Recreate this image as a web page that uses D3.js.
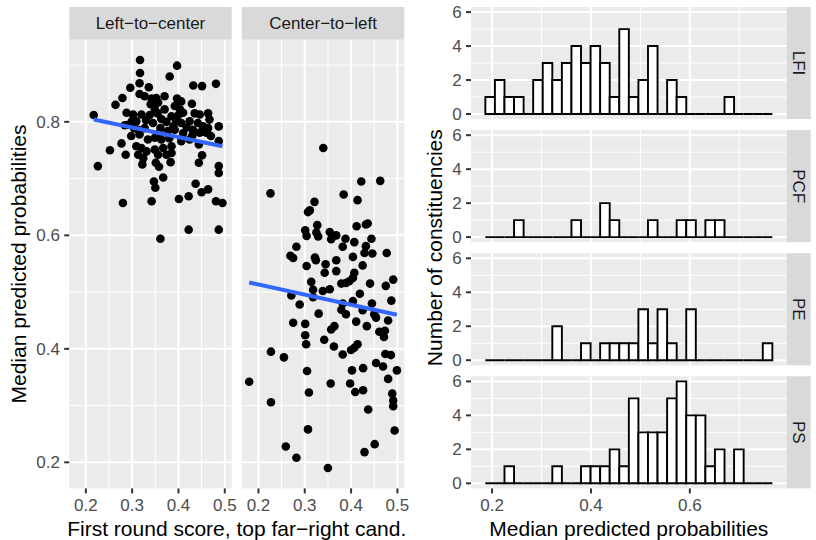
<!DOCTYPE html>
<html>
<head>
<meta charset="utf-8">
<script src="https://cdn.jsdelivr.net/npm/d3@7"></script>
<style>
  body { margin: 0; background: #fff; }
  text { font-family: "Liberation Sans", Arial, sans-serif; }
</style>
</head>
<body>
<svg id="chart" width="816" height="540"></svg>
<script>
// -------------------------------------------------------------------------
// Data

const facetNames = ['Left\u2212to\u2212center', 'Center\u2212to\u2212left'];

// [first round score, median predicted probability]
const leftToCenter = [
  [0.317, 0.909], [0.397, 0.899], [0.317, 0.886], [0.381, 0.880], [0.432, 0.864],
  [0.451, 0.863], [0.481, 0.867], [0.296, 0.860], [0.316, 0.868], [0.336, 0.861],
  [0.279, 0.842], [0.264, 0.830], [0.316, 0.849], [0.327, 0.845], [0.342, 0.841],
  [0.352, 0.842], [0.370, 0.845], [0.340, 0.831], [0.356, 0.834], [0.349, 0.822],
  [0.397, 0.841], [0.406, 0.836], [0.392, 0.828], [0.403, 0.822], [0.410, 0.816],
  [0.429, 0.832], [0.435, 0.815], [0.446, 0.813], [0.464, 0.815], [0.467, 0.804],
  [0.217, 0.812], [0.288, 0.816], [0.302, 0.813], [0.320, 0.813], [0.309, 0.801],
  [0.291, 0.795], [0.284, 0.794], [0.345, 0.798], [0.363, 0.805], [0.370, 0.822],
  [0.385, 0.810], [0.395, 0.801], [0.406, 0.798], [0.392, 0.786], [0.424, 0.801],
  [0.431, 0.786], [0.442, 0.798], [0.453, 0.792], [0.464, 0.789], [0.460, 0.781],
  [0.487, 0.792], [0.304, 0.789], [0.313, 0.786], [0.327, 0.789], [0.361, 0.789],
  [0.377, 0.784], [0.298, 0.775], [0.316, 0.778], [0.334, 0.769], [0.349, 0.772],
  [0.363, 0.769], [0.277, 0.762], [0.252, 0.750], [0.309, 0.757], [0.320, 0.754],
  [0.331, 0.748], [0.349, 0.751], [0.367, 0.754], [0.385, 0.757], [0.406, 0.766],
  [0.424, 0.769], [0.444, 0.760], [0.487, 0.766], [0.286, 0.742], [0.313, 0.742],
  [0.324, 0.736], [0.356, 0.742], [0.374, 0.742], [0.385, 0.745], [0.226, 0.722],
  [0.322, 0.725], [0.351, 0.728], [0.358, 0.721], [0.383, 0.729], [0.444, 0.728],
  [0.451, 0.741], [0.487, 0.722], [0.487, 0.710], [0.367, 0.702], [0.347, 0.695],
  [0.350, 0.684], [0.437, 0.691], [0.450, 0.676], [0.464, 0.681], [0.280, 0.657],
  [0.342, 0.660], [0.401, 0.664], [0.422, 0.669], [0.481, 0.660], [0.495, 0.657],
  [0.422, 0.610], [0.487, 0.610], [0.361, 0.594], [0.330, 0.803], [0.338, 0.812],
  [0.374, 0.800], [0.389, 0.792], [0.410, 0.780], [0.357, 0.779], [0.380, 0.771],
  [0.418, 0.790], [0.400, 0.812], [0.355, 0.815], [0.300, 0.802], [0.430, 0.776],
  [0.446, 0.781], [0.470, 0.775]
];

const centerToLeft = [
  [0.340, 0.754], [0.226, 0.674], [0.422, 0.695], [0.463, 0.696], [0.384, 0.672],
  [0.414, 0.662], [0.321, 0.659], [0.311, 0.644], [0.307, 0.641], [0.327, 0.618],
  [0.412, 0.616], [0.432, 0.619], [0.436, 0.621], [0.301, 0.609], [0.304, 0.599],
  [0.325, 0.605], [0.329, 0.598], [0.354, 0.606], [0.357, 0.593], [0.368, 0.600],
  [0.388, 0.594], [0.407, 0.588], [0.444, 0.594], [0.432, 0.581], [0.429, 0.569],
  [0.446, 0.568], [0.477, 0.569], [0.382, 0.580], [0.282, 0.580], [0.269, 0.564],
  [0.275, 0.560], [0.322, 0.561], [0.324, 0.556], [0.304, 0.546], [0.345, 0.549],
  [0.343, 0.534], [0.368, 0.556], [0.368, 0.537], [0.404, 0.562], [0.425, 0.547],
  [0.407, 0.534], [0.404, 0.525], [0.396, 0.519], [0.389, 0.516], [0.379, 0.515],
  [0.314, 0.518], [0.318, 0.504], [0.339, 0.502], [0.354, 0.505], [0.441, 0.515],
  [0.475, 0.511], [0.491, 0.522], [0.419, 0.497], [0.271, 0.494], [0.289, 0.478],
  [0.318, 0.491], [0.382, 0.480], [0.404, 0.484], [0.445, 0.480], [0.487, 0.485],
  [0.379, 0.469], [0.389, 0.461], [0.330, 0.462], [0.425, 0.468], [0.450, 0.461],
  [0.454, 0.455], [0.480, 0.450], [0.275, 0.446], [0.301, 0.444], [0.411, 0.448],
  [0.434, 0.440], [0.301, 0.424], [0.357, 0.434], [0.364, 0.440], [0.461, 0.430],
  [0.473, 0.432], [0.471, 0.421], [0.342, 0.416], [0.303, 0.408], [0.363, 0.404],
  [0.382, 0.390], [0.400, 0.398], [0.407, 0.402], [0.414, 0.408], [0.474, 0.391],
  [0.486, 0.389], [0.227, 0.395], [0.255, 0.385], [0.454, 0.375], [0.469, 0.369],
  [0.499, 0.362], [0.402, 0.362], [0.426, 0.366], [0.305, 0.361], [0.480, 0.347],
  [0.180, 0.342], [0.356, 0.339], [0.398, 0.339], [0.409, 0.324], [0.426, 0.327],
  [0.309, 0.323], [0.489, 0.321], [0.491, 0.309], [0.491, 0.299], [0.227, 0.306],
  [0.437, 0.293], [0.307, 0.258], [0.494, 0.256], [0.259, 0.228], [0.451, 0.232],
  [0.429, 0.218], [0.282, 0.208], [0.350, 0.190]
];

// lm fits
const fitLeftToCenter = { intercept: 0.8407, slope: -0.169 };
const fitCenterToLeft = { intercept: 0.549, slope: -0.178 };

// histograms: 30 bins of median predicted probabilities
const partyNames = ['LFI', 'PCF', 'PE', 'PS'];
const binStart = 0.1864;
const binWidth = 0.01935;
const countsLFI = [1, 2, 1, 1, 0, 2, 3, 2, 3, 4, 3, 4, 3, 1, 5, 1, 2, 4, 0, 2, 1, 0, 0, 0, 0, 1, 0, 0, 0, 0];
const countsPCF = [0, 0, 0, 1, 0, 0, 0, 0, 0, 1, 0, 0, 2, 1, 0, 0, 0, 1, 0, 0, 1, 1, 0, 1, 1, 0, 0, 0, 0, 0];
const countsPE  = [0, 0, 0, 0, 0, 0, 0, 2, 0, 0, 1, 0, 1, 1, 1, 1, 3, 1, 3, 1, 0, 3, 0, 0, 0, 0, 0, 0, 0, 1];
const countsPS  = [0, 0, 1, 0, 0, 0, 0, 1, 0, 0, 1, 1, 1, 2, 1, 5, 3, 3, 3, 5, 6, 4, 4, 1, 2, 0, 2, 0, 0, 0];

const scatterTicksX = [0.2, 0.3, 0.4, 0.5];
const scatterTicksY = [0.2, 0.4, 0.6, 0.8];
const histTicksX = [0.2, 0.4, 0.6];
const histTicksY = [0, 2, 4, 6];

// -------------------------------------------------------------------------
// Helpers

const svg = d3.select('#chart');
const panelBg = '#EBEBEB';
const stripBg = '#D9D9D9';
const tickCol = '#333333';
const labelCol = '#4D4D4D';

function expand(ext, mult) {
  let d = (ext[1] - ext[0]) * mult;
  return [ext[0] - d, ext[1] + d];
}

// minor breaks halfway between majors, kept if inside the domain
function minorBreaks(majors, domain) {
  let step = majors[1] - majors[0];
  let out = [];
  for (let i = -1; i < majors.length; i++) {
    let v = majors[0] + step * (i + 0.5);
    if (v > domain[0] && v < domain[1]) out.push(v);
  }
  return out;
}

function drawPanel(g, x, y, ticksX, ticksY) {
  let [x0, x1] = x.range();
  let [y0, y1] = y.range();
  g.append('rect')
    .attr('x', x0).attr('y', y1)
    .attr('width', x1 - x0).attr('height', y0 - y1)
    .attr('fill', panelBg);
  let grid = g.append('g').attr('stroke', '#fff');
  minorBreaks(ticksX, x.domain()).forEach(v => {
    grid.append('line').attr('x1', x(v)).attr('x2', x(v)).attr('y1', y0).attr('y2', y1).attr('stroke-width', 1);
  });
  minorBreaks(ticksY, y.domain()).forEach(v => {
    grid.append('line').attr('y1', y(v)).attr('y2', y(v)).attr('x1', x0).attr('x2', x1).attr('stroke-width', 1);
  });
  ticksX.forEach(v => {
    grid.append('line').attr('x1', x(v)).attr('x2', x(v)).attr('y1', y0).attr('y2', y1).attr('stroke-width', 2);
  });
  ticksY.forEach(v => {
    grid.append('line').attr('y1', y(v)).attr('y2', y(v)).attr('x1', x0).attr('x2', x1).attr('stroke-width', 2);
  });
}

function drawAxisBottom(g, x, yPos, ticks, fmt) {
  ticks.forEach(v => {
    g.append('line')
      .attr('x1', x(v)).attr('x2', x(v))
      .attr('y1', yPos).attr('y2', yPos + 5)
      .attr('stroke', tickCol).attr('stroke-width', 2);
    g.append('text')
      .attr('x', x(v)).attr('y', yPos + 23)
      .attr('text-anchor', 'middle')
      .attr('font-size', 17).attr('fill', labelCol)
      .text(fmt(v));
  });
}

function drawAxisLeft(g, y, xPos, ticks, fmt) {
  ticks.forEach(v => {
    g.append('line')
      .attr('x1', xPos - 5).attr('x2', xPos)
      .attr('y1', y(v)).attr('y2', y(v))
      .attr('stroke', tickCol).attr('stroke-width', 2);
    g.append('text')
      .attr('x', xPos - 9.2).attr('y', y(v))
      .attr('dy', '0.35em')
      .attr('text-anchor', 'end')
      .attr('font-size', 17).attr('fill', labelCol)
      .text(fmt(v));
  });
}

// -------------------------------------------------------------------------
// Left: scatter facets

const panelW = 162.5;
const stripTop = 7;
const panelTop = 39.6;
const panelBottom = 488.4;
const facetLeft = [69.2, 241.8];

const allPts = leftToCenter.concat(centerToLeft);
const xDomain = expand(d3.extent(allPts, d => d[0]), 0.05);
const yDomain = expand(d3.extent(allPts, d => d[1]), 0.05);
const yScat = d3.scaleLinear().domain(yDomain).range([panelBottom, panelTop]);

const facets = [
  { name: facetNames[0], pts: leftToCenter, fit: fitLeftToCenter },
  { name: facetNames[1], pts: centerToLeft, fit: fitCenterToLeft }
];

const left = svg.append('g').attr('class', 'scatter');

facets.forEach((f, i) => {
  let x = d3.scaleLinear().domain(xDomain).range([facetLeft[i], facetLeft[i] + panelW]);
  let g = left.append('g');
  drawPanel(g, x, yScat, scatterTicksX, scatterTicksY);

  g.append('g')
    .selectAll('circle')
    .data(f.pts)
    .enter()
    .append('circle')
    .attr('cx', d => x(d[0]))
    .attr('cy', d => yScat(d[1]))
    .attr('r', 4.3)
    .attr('fill', '#000');

  let ext = d3.extent(f.pts, d => d[0]);
  let line = d3.line().x(d => x(d)).y(d => yScat(f.fit.intercept + f.fit.slope * d));
  g.append('path')
    .attr('d', line(ext))
    .attr('fill', 'none')
    .attr('stroke', '#3366FF')
    .attr('stroke-width', 4);

  // strip
  g.append('rect')
    .attr('x', facetLeft[i]).attr('y', stripTop)
    .attr('width', panelW).attr('height', panelTop - stripTop)
    .attr('fill', stripBg);
  g.append('text')
    .attr('x', facetLeft[i] + panelW / 2)
    .attr('y', (stripTop + panelTop) / 2)
    .attr('dy', '0.35em')
    .attr('text-anchor', 'middle')
    .attr('font-size', 17).attr('fill', '#1A1A1A')
    .text(f.name);

  drawAxisBottom(g, x, panelBottom, scatterTicksX, d3.format('.1f'));
});

drawAxisLeft(left, yScat, facetLeft[0], scatterTicksY, d3.format('.1f'));

left.append('text')
  .attr('transform', `translate(25.5,${(panelTop + panelBottom) / 2}) rotate(-90)`)
  .attr('text-anchor', 'middle')
  .attr('font-size', 21).attr('fill', '#000')
  .text('Median predicted probabilities');

left.append('text')
  .attr('x', (facetLeft[0] + facetLeft[1] + panelW) / 2)
  .attr('y', 535.7)
  .attr('text-anchor', 'middle')
  .attr('font-size', 21).attr('fill', '#000')
  .text('First round score, top far\u2212right cand.');

// -------------------------------------------------------------------------
// Right: histogram facets

const histLeft = 471;
const histRight = 786.7;
const histStripW = 24;
const histTop = 7;
const histGap = 11;
const histH = (panelBottom - histTop - 3 * histGap) / 4;

const partyCounts = [countsLFI, countsPCF, countsPE, countsPS];
const binEdges = d3.range(countsLFI.length + 1).map(i => binStart + i * binWidth);
const xHist = d3.scaleLinear()
  .domain(expand([binEdges[0], binEdges[binEdges.length - 1]], 0.05))
  .range([histLeft, histRight]);
const maxCount = d3.max(partyCounts, c => d3.max(c));

const right = svg.append('g').attr('class', 'hist');

partyNames.forEach((name, i) => {
  let top = histTop + i * (histH + histGap);
  let y = d3.scaleLinear().domain(expand([0, maxCount], 0.05)).range([top + histH, top]);
  let g = right.append('g');
  drawPanel(g, xHist, y, histTicksX, histTicksY);

  g.append('g')
    .selectAll('path')
    .data(partyCounts[i])
    .enter()
    .append('path')
    .attr('d', (c, j) => {
      let x0 = xHist(binEdges[j]);
      let x1 = xHist(binEdges[j + 1]);
      return `M${x0},${y(0)}V${y(c)}H${x1}V${y(0)}Z`;
    })
    .attr('fill', '#fff')
    .attr('stroke', '#000')
    .attr('stroke-width', 1.9);

  g.append('rect')
    .attr('x', histRight).attr('y', top)
    .attr('width', histStripW).attr('height', histH)
    .attr('fill', stripBg);
  g.append('text')
    .attr('transform', `translate(${histRight + histStripW / 2},${top + histH / 2}) rotate(90)`)
    .attr('dy', '0.35em')
    .attr('text-anchor', 'middle')
    .attr('font-size', 17).attr('fill', '#1A1A1A')
    .text(name);

  drawAxisLeft(g, y, histLeft, histTicksY, d3.format('d'));
});

drawAxisBottom(right, xHist, panelBottom, histTicksX, d3.format('.1f'));

right.append('text')
  .attr('transform', `translate(441.8,${(histTop + panelBottom) / 2}) rotate(-90)`)
  .attr('text-anchor', 'middle')
  .attr('font-size', 21).attr('fill', '#000')
  .text('Number of constituencies');

right.append('text')
  .attr('x', (histLeft + histRight) / 2)
  .attr('y', 535.7)
  .attr('text-anchor', 'middle')
  .attr('font-size', 21).attr('fill', '#000')
  .text('Median predicted probabilities');
</script>
</body>
</html>
